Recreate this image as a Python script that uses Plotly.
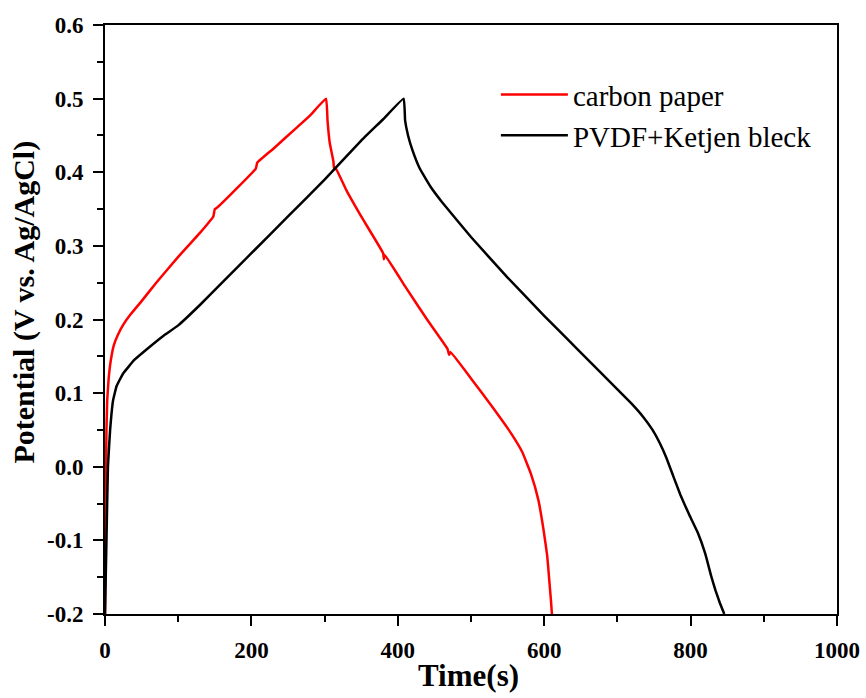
import plotly.graph_objects as go

# carbon paper (red)
t_cp = [0, 1, 2, 3, 5, 8, 12, 18, 25, 35, 50, 70, 100, 130, 148, 150, 152, 180, 206, 208, 230, 260, 280, 302,
        304, 307, 312, 313, 316, 330, 350, 380, 381, 382, 410, 440, 468, 470, 472, 500, 530, 555, 570, 582, 592,
        599, 604, 607, 609.5, 610.5]
v_cp = [-0.2, -0.05, 0.05, 0.09, 0.12, 0.145, 0.165, 0.18, 0.193, 0.207, 0.225, 0.25, 0.285, 0.318, 0.34, 0.35,
        0.351, 0.378, 0.405, 0.413, 0.432, 0.459, 0.477, 0.5,
        0.47, 0.44, 0.415, 0.405, 0.404, 0.375, 0.34, 0.29, 0.282, 0.288, 0.245, 0.2, 0.16, 0.152, 0.156, 0.12,
        0.08, 0.045, 0.02, -0.01, -0.045, -0.085, -0.12, -0.155, -0.185, -0.2]

# PVDF + Ketjen bleck (black)
t_pk = [0, 2, 4, 7, 11, 16, 25, 40, 60, 80, 100, 130, 160, 200, 250, 300, 350, 380, 408,
        410, 414, 420, 430, 445, 460, 500, 550, 600, 650, 700, 720, 735, 748, 758, 767, 776, 786, 798, 810, 820,
        828, 834, 840, 846]
v_pk = [-0.2, -0.1, 0.0, 0.05, 0.09, 0.11, 0.127, 0.145, 0.162, 0.178, 0.192, 0.22, 0.25, 0.29, 0.34, 0.39, 0.443,
        0.472, 0.5,
        0.47, 0.45, 0.43, 0.405, 0.38, 0.36, 0.312, 0.257, 0.205, 0.155, 0.105, 0.085, 0.068, 0.05, 0.032, 0.012,
        -0.012, -0.038, -0.065, -0.09, -0.118, -0.148, -0.168, -0.185, -0.2]

x_ticks = [0, 200, 400, 600, 800, 1000]
y_ticks = [-0.2, -0.1, 0.0, 0.1, 0.2, 0.3, 0.4, 0.5, 0.6]

FONT = "Liberation Serif"

fig = go.Figure()
fig.add_trace(go.Scatter(x=t_cp, y=v_cp, mode="lines", name="carbon paper",
                         line=dict(color="#ff0000", width=2.5, shape="spline", smoothing=0.3)))
fig.add_trace(go.Scatter(x=t_pk, y=v_pk, mode="lines", name="PVDF+Ketjen bleck",
                         line=dict(color="#000000", width=2.5, shape="spline", smoothing=0.3)))

axis_common = dict(
    showline=True, linecolor="black", linewidth=2, mirror=True,
    ticks="outside", ticklen=10, tickwidth=2, tickcolor="black",
    showgrid=False, zeroline=False, automargin=False,
    tickfont=dict(family=FONT, size=23, color="black"),
)

fig.update_xaxes(
    range=[0, 1000], tickvals=x_ticks, ticktext=[f"<b>{v}</b>" for v in x_ticks],
    minor=dict(dtick=100, ticks="outside", ticklen=6, tickwidth=2, tickcolor="black"),
    ticklabelstandoff=4,
    **axis_common,
)
fig.update_yaxes(
    range=[-0.2, 0.6], tickvals=y_ticks, ticktext=[f"<b>{v:.1f}</b>" for v in y_ticks],
    minor=dict(dtick=0.05, ticks="outside", ticklen=6, tickwidth=2, tickcolor="black"),
    ticklabelstandoff=5,
    **axis_common,
)

# axis titles as text annotations for exact placement
fig.add_annotation(text="<b>Time(s)</b>", xref="paper", yref="paper", x=0.497, y=-0.104,
                   xanchor="center", yanchor="middle", showarrow=False,
                   font=dict(family=FONT, size=31, color="black"))
fig.add_annotation(text="<b>Potential (V vs. Ag/AgCl)</b>", textangle=-90,
                   xref="paper", yref="paper", x=-0.111, y=0.53, xanchor="center", yanchor="middle",
                   showarrow=False, font=dict(family=FONT, size=30, color="black"))

fig.update_layout(
    width=866, height=698,
    margin=dict(l=105, r=29, t=25, b=84),
    paper_bgcolor="white", plot_bgcolor="white",
    legend=dict(x=0.534, y=0.925, xanchor="left", yanchor="top",
                font=dict(family=FONT, size=29, color="black"),
                bgcolor="rgba(0,0,0,0)", itemwidth=67, tracegroupgap=0),
    showlegend=True,
)

fig.write_html("out.html", config={"displayModeBar": False},
               post_script="document.body.style.margin='0px';document.body.style.overflow='hidden';")
